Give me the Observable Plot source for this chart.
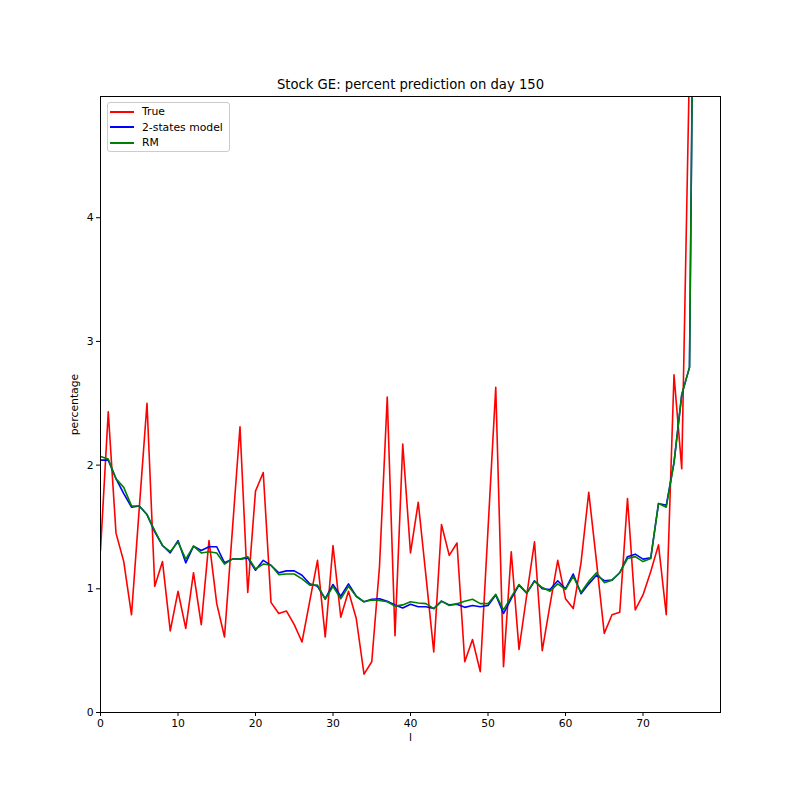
<!DOCTYPE html>
<html>
<head>
<meta charset="utf-8">
<script src="https://cdn.jsdelivr.net/npm/d3@7"></script>
<script src="https://cdn.jsdelivr.net/npm/@observablehq/plot@0.6"></script>
<style>
  html, body { margin: 0; padding: 0; background: white; }
  #wrap { position: relative; width: 800px; height: 800px; font-family: "DejaVu Sans", sans-serif; }
  #legend { position: absolute; left: 107px; top: 102px; width: 123px; height: 50px;
            border: 1px solid #cccccc; border-radius: 3px; background: rgba(255,255,255,0.8);
            font-size: 10.8px; box-sizing: border-box; }
  .row { position: absolute; left: 0; height: 15px; display: flex; align-items: center; }
  .sw { width: 24px; height: 0; border-top: 2px solid; margin-left: 2px; margin-right: 8px; }
</style>
</head>
<body>
<div id="wrap"><div id="legend"></div></div>
<script>
const titleText = "Stock GE: percent prediction on day 150";
const xLabel = "l";
const yLabel = "percentage";
const xTicks = [0, 10, 20, 30, 40, 50, 60, 70];
const yTicks = [0, 1, 2, 3, 4];
const seriesNames = ["True", "2-states model", "RM"];
const seriesColors = ["#ff0000", "#0000ff", "#008000"];

const trueVals = [1.31, 2.43, 1.45, 1.22, 0.79, 1.65, 2.50, 1.02, 1.22, 0.66,
  0.98, 0.68, 1.13, 0.71, 1.39, 0.88, 0.61, 1.46, 2.31, 0.97,
  1.79, 1.94, 0.89, 0.80, 0.82, 0.71, 0.57, 0.90, 1.23, 0.61,
  1.35, 0.77, 0.98, 0.76, 0.31, 0.41, 1.18, 2.55, 0.62, 2.17,
  1.29, 1.70, 1.10, 0.49, 1.52, 1.27, 1.37, 0.41, 0.59, 0.33,
  1.48, 2.63, 0.37, 1.30, 0.51, 0.95, 1.38, 0.50, 0.87, 1.23,
  0.92, 0.84, 1.21, 1.78, 1.22, 0.64, 0.79, 0.81, 1.73, 0.83,
  0.95, 1.14, 1.355, 0.79, 2.73, 1.97, 5.25, 8.0];

const twoStateVals = [2.04, 2.04, 1.89, 1.77, 1.66, 1.67, 1.60, 1.46, 1.35, 1.29,
  1.39, 1.21, 1.345, 1.31, 1.34, 1.34, 1.21, 1.24, 1.24, 1.25,
  1.15, 1.23, 1.19, 1.13, 1.145, 1.145, 1.11, 1.04, 1.02, 0.92,
  1.035, 0.94, 1.04, 0.94, 0.895, 0.915, 0.92, 0.90, 0.87, 0.845,
  0.875, 0.855, 0.855, 0.84, 0.90, 0.87, 0.875, 0.85, 0.865, 0.855,
  0.865, 0.95, 0.80, 0.92, 1.03, 0.965, 1.065, 1.00, 0.995, 1.065,
  1.00, 1.12, 0.96, 1.04, 1.11, 1.065, 1.07, 1.13, 1.26, 1.28,
  1.24, 1.25, 1.69, 1.675, 2.02, 2.57, 2.79, 9.4];

const rmVals = [2.07, 2.05, 1.89, 1.82, 1.67, 1.67, 1.60, 1.47, 1.35, 1.30,
  1.38, 1.24, 1.345, 1.29, 1.30, 1.29, 1.20, 1.24, 1.24, 1.26,
  1.16, 1.20, 1.19, 1.115, 1.12, 1.12, 1.08, 1.03, 1.03, 0.915,
  1.02, 0.92, 1.02, 0.94, 0.895, 0.91, 0.905, 0.895, 0.86, 0.87,
  0.895, 0.885, 0.88, 0.84, 0.90, 0.865, 0.88, 0.90, 0.915, 0.88,
  0.88, 0.955, 0.83, 0.935, 1.035, 0.965, 1.06, 1.01, 0.98, 1.04,
  0.995, 1.10, 0.97, 1.06, 1.13, 1.05, 1.07, 1.13, 1.245, 1.26,
  1.22, 1.245, 1.69, 1.66, 2.02, 2.57, 2.79, 9.4];

const allSeries = [trueVals, twoStateVals, rmVals];
const idx = d3.range(trueVals.length);

const lineMarks = allSeries.map((vals, k) =>
  Plot.line(idx, {x: i => i, y: i => vals[i], stroke: seriesColors[k], strokeWidth: 1.6, clip: true})
);

const chart = Plot.plot({
  width: 800,
  height: 800,
  marginLeft: 100,
  marginRight: 80,
  marginTop: 96,
  marginBottom: 88,
  x: {domain: [0, 80]},
  y: {domain: [0, 4.98]},
  style: {fontFamily: "DejaVu Sans", fontSize: "10.8px", color: "black", background: "white"},
  marks: [
    ...lineMarks,
    Plot.frame({stroke: "black", strokeWidth: 1}),
    Plot.axisX({ticks: xTicks, tickSize: 4, tickPadding: 3, label: null, fontSize: 10.8, tickFormat: d => String(d)}),
    Plot.axisY({ticks: yTicks, tickSize: 4, tickPadding: 3, label: null, fontSize: 10.8, tickFormat: d => String(d)}),
    Plot.text([titleText], {text: d => d, frameAnchor: "top", lineAnchor: "middle", dy: -12, fontSize: 13.2}),
    Plot.text([yLabel], {text: d => d, frameAnchor: "left", textAnchor: "middle", dx: -26, rotate: -90, fontSize: 10.8}),
    Plot.text([xLabel], {text: d => d, frameAnchor: "bottom", dy: 28, fontSize: 10.8})
  ]
});
document.getElementById("wrap").prepend(chart);

const legend = document.getElementById("legend");
seriesNames.forEach((name, k) => {
  const row = document.createElement("div");
  row.className = "row";
  row.style.top = (1 + k * 15.5) + "px";
  const sw = document.createElement("span");
  sw.className = "sw";
  sw.style.borderColor = seriesColors[k];
  const lab = document.createElement("span");
  lab.textContent = name;
  row.appendChild(sw);
  row.appendChild(lab);
  legend.appendChild(row);
});
</script>
</body>
</html>
